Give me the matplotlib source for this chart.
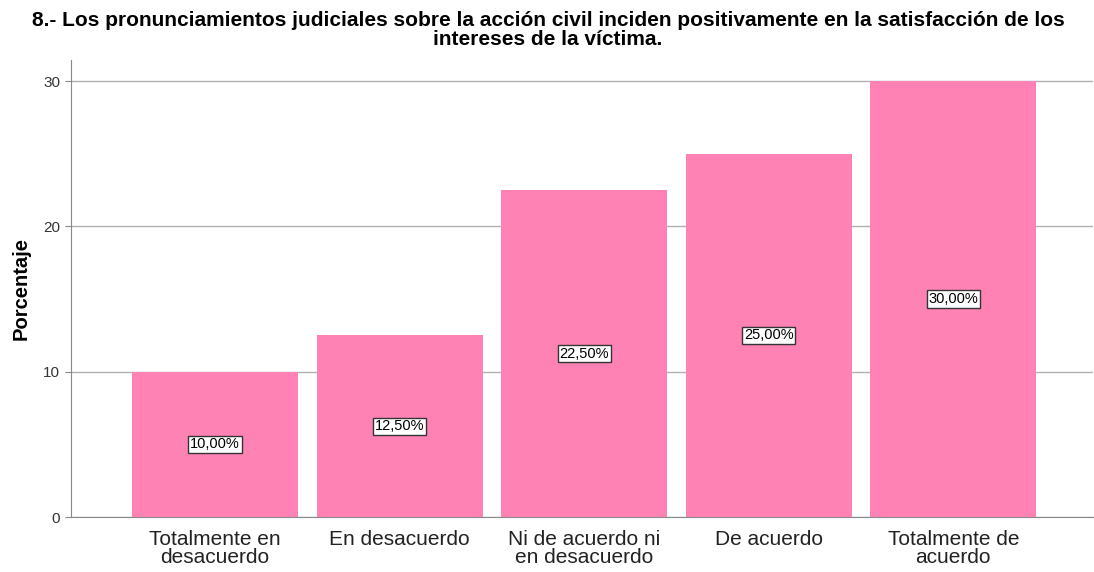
import numpy as np
import matplotlib.pyplot as plt

# ----- Dati -----
categorie = ["Totalmente en\ndesacuerdo", "En desacuerdo", "Ni de acuerdo ni\nen desacuerdo",
             "De acuerdo", "Totalmente de\nacuerdo"]
porcentajes = [10.0, 12.5, 22.5, 25.0, 30.0]
etiquetas = ["10,00%", "12,50%", "22,50%", "25,00%", "30,00%"]
y_ticks = [0, 10, 20, 30]

titulo = ("8.- Los pronunciamientos judiciales sobre la acción civil inciden positivamente en la satisfacción de los\n"
          "intereses de la víctima.")


def main():
    plt.rcParams['font.family'] = ['Liberation Sans', 'DejaVu Sans']

    fig = plt.figure(figsize=(10.94, 5.72), dpi=100)
    ax = fig.add_axes([0.065, 0.096, 0.934, 0.799])

    x = np.arange(len(categorie))
    ax.bar(x, porcentajes, width=0.9, color="#ff82b4", zorder=2)

    for xi, val, lab in zip(x, porcentajes, etiquetas):
        ax.text(xi, val / 2, lab, ha="center", va="center", fontsize=10.5, zorder=3,
                bbox=dict(boxstyle="square,pad=0.12", facecolor="white", edgecolor="#333333", linewidth=1))

    ax.set_xlim(-0.78, 4.756)
    ax.set_ylim(0, 31.45)
    ax.set_yticks(y_ticks)
    ax.set_xticks(x)
    ax.set_xticklabels(categorie, fontsize=15, color="#222222", linespacing=0.98)
    ax.tick_params(axis="y", labelsize=11, colors="#333333", length=4, color="#888888", pad=4)
    ax.tick_params(axis="x", length=0, pad=9)
    ax.yaxis.grid(True, color="#b0b0b0", linewidth=1, zorder=0)
    ax.set_axisbelow(True)

    for s in ["top", "right"]:
        ax.spines[s].set_visible(False)
    for s in ["left", "bottom"]:
        ax.spines[s].set_color("#888888")

    ax.set_ylabel("Porcentaje", fontsize=14.5, fontweight="bold", labelpad=9)
    fig.text(0.501, 0.981, titulo, ha="center", va="top", fontsize=15, fontweight="bold",
             linespacing=1.0)

    plt.savefig("out.png", dpi=100)


if __name__ == '__main__':
    main()
